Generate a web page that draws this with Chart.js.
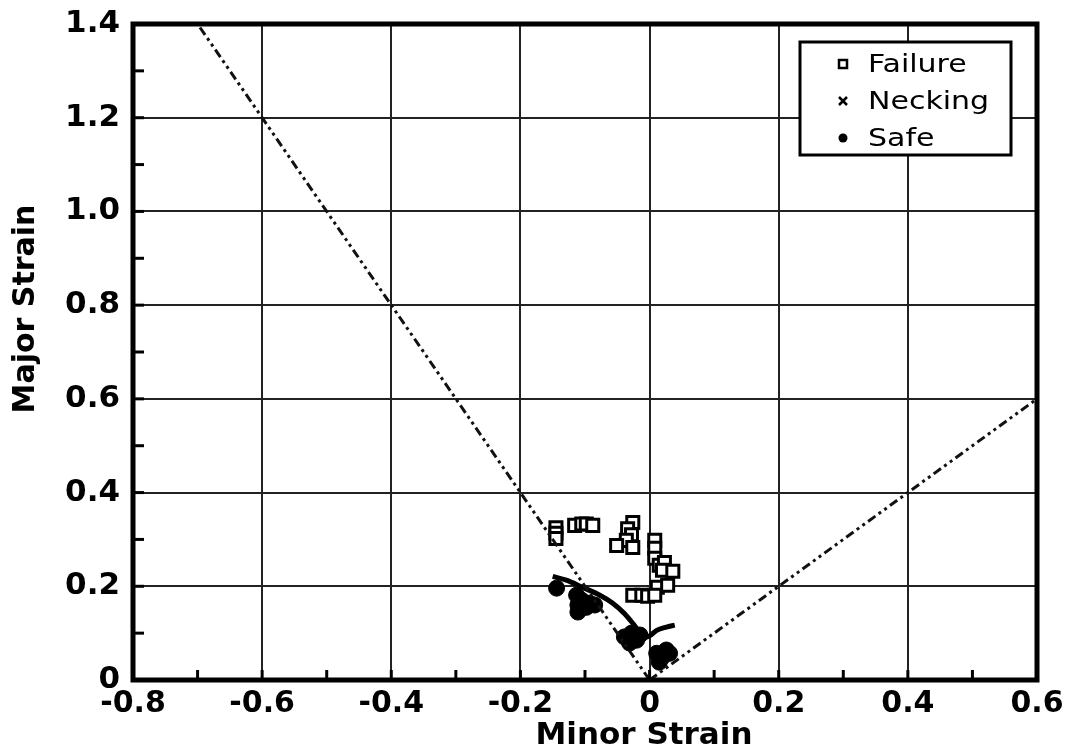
<!DOCTYPE html>
<html>
<head>
<meta charset="utf-8">
<script src="https://cdn.jsdelivr.net/npm/chart.js@4.4.1/dist/chart.umd.min.js"></script>
<style>
  html, body { margin: 0; padding: 0; background: #fff; }
</style>
</head>
<body>
<canvas id="flc" width="1065" height="755"></canvas>
<script>
// forming limit diagram
const failureMinor = [-0.145, -0.145, -0.145, -0.116, -0.105, -0.098, -0.088, -0.026, -0.034, -0.028, -0.036, -0.051, -0.026,
  0.008, 0.008, 0.008, 0.015, 0.023, 0.02, 0.036, 0.012, 0.028, -0.026, -0.012, -0.003, 0.008];
const failureMajor = [0.325, 0.313, 0.302, 0.33, 0.333, 0.333, 0.33, 0.336, 0.323, 0.31, 0.298, 0.287, 0.283,
  0.298, 0.281, 0.26, 0.245, 0.251, 0.234, 0.232, 0.198, 0.202, 0.181, 0.181, 0.179, 0.181];

const safeMinor = [-0.144, -0.113, -0.105, -0.093, -0.085, -0.111, -0.111, -0.098,
  -0.039, -0.028, -0.031, -0.02, -0.015, 0.011, 0.02, 0.031, 0.015, 0.026];
const safeMajor = [0.196, 0.181, 0.17, 0.164, 0.16, 0.16, 0.145, 0.155,
  0.092, 0.1, 0.079, 0.085, 0.096, 0.057, 0.049, 0.057, 0.038, 0.064];

const neckingMinor = [];
const neckingMajor = [];

const curveMinor = [-0.15, -0.129, -0.104, -0.077, -0.057, -0.039, -0.026, -0.015, -0.006, 0.0, 0.011, 0.026, 0.039];
const curveMajor = [0.221, 0.213, 0.198, 0.181, 0.164, 0.142, 0.121, 0.102, 0.091, 0.094, 0.106, 0.113, 0.117];

const leftLimitMinor = [-0.72, 0];
const leftLimitMajor = [1.44, 0];
const rightLimitMinor = [0, 0.62];
const rightLimitMajor = [0, 0.62];

const legendLabels = ['Failure', 'Necking', 'Safe'];
const xTitle = 'Minor Strain';
const yTitle = 'Major Strain';

function pts(xs, ys) {
  return xs.map((x, i) => ({ x: x, y: ys[i] }));
}

function fmt(v) {
  return Math.abs(v) < 1e-9 ? '0' : v.toFixed(1);
}

const limitDash = [9, 4, 3, 4, 3, 4];

// frame, inward ticks, titles and legend box
const decor = {
  id: 'decor',
  afterDatasetsDraw(chart) {
    const ctx = chart.ctx;
    const a = chart.chartArea;
    const xs = chart.scales.x, ys = chart.scales.y;
    ctx.save();
    ctx.strokeStyle = '#000';
    ctx.lineWidth = 3;
    for (let i = -8; i <= 6; i++) {
      const px = xs.getPixelForValue(i / 10);
      ctx.beginPath();
      ctx.moveTo(px, a.bottom);
      ctx.lineTo(px, a.bottom - 10);
      ctx.stroke();
    }
    for (let i = 0; i <= 14; i++) {
      const py = ys.getPixelForValue(i / 10);
      ctx.beginPath();
      ctx.moveTo(a.left, py);
      ctx.lineTo(a.left + 11, py);
      ctx.stroke();
    }
    ctx.lineWidth = 5;
    ctx.strokeRect(a.left, a.top, a.right - a.left, a.bottom - a.top);

    // legend
    const bx = 800, by = 42, bw = 211, bh = 113;
    ctx.fillStyle = '#fff';
    ctx.fillRect(bx, by, bw, bh);
    ctx.lineWidth = 3;
    ctx.strokeRect(bx, by, bw, bh);
    ctx.fillStyle = '#000';
    ctx.textBaseline = 'middle';
    ctx.textAlign = 'left';
    legendLabels.forEach((lab, i) => {
      const cy = by + 22 + i * 37;
      const mx = 843;
      ctx.lineWidth = 2.5;
      if (i === 0) {
        ctx.strokeRect(mx - 4, cy - 4, 8, 8);
      } else if (i === 1) {
        ctx.beginPath();
        ctx.moveTo(mx - 4, cy - 4); ctx.lineTo(mx + 4, cy + 4);
        ctx.moveTo(mx + 4, cy - 4); ctx.lineTo(mx - 4, cy + 4);
        ctx.stroke();
      } else {
        ctx.beginPath();
        ctx.arc(mx, cy, 4.5, 0, Math.PI * 2);
        ctx.fill();
      }
      ctx.save();
      ctx.translate(868, cy);
      ctx.scale(1.2, 1);
      ctx.font = '25px "DejaVu Sans"';
      ctx.fillText(lab, 0, 1);
      ctx.restore();
    });
    ctx.restore();
  },
  afterDraw(chart) {
    const ctx = chart.ctx;
    ctx.save();
    ctx.fillStyle = '#000';
    ctx.font = 'bold 31px "DejaVu Sans"';
    ctx.textAlign = 'center';
    ctx.textBaseline = 'middle';
    ctx.fillText(xTitle, 644, 736);
    ctx.translate(26, 309);
    ctx.rotate(-Math.PI / 2);
    ctx.font = 'bold 30px "DejaVu Sans"';
    ctx.fillText(yTitle, 0, 0);
    ctx.restore();
  }
};

new Chart(document.getElementById('flc'), {
  type: 'scatter',
  data: {
    datasets: [
      {
        label: 'left limit',
        data: pts(leftLimitMinor, leftLimitMajor),
        showLine: true,
        borderColor: '#111',
        borderWidth: 3,
        borderDash: limitDash,
        pointRadius: 0
      },
      {
        label: 'right limit',
        data: pts(rightLimitMinor, rightLimitMajor),
        showLine: true,
        borderColor: '#111',
        borderWidth: 3,
        borderDash: limitDash,
        pointRadius: 0
      },
      {
        label: 'curve',
        data: pts(curveMinor, curveMajor),
        showLine: true,
        borderColor: '#000',
        borderWidth: 5,
        cubicInterpolationMode: 'monotone',
        pointRadius: 0
      },
      {
        label: 'Safe',
        data: pts(safeMinor, safeMajor),
        pointStyle: 'circle',
        pointRadius: 8,
        backgroundColor: '#000',
        borderColor: '#000',
        borderWidth: 1
      },
      {
        label: 'Necking',
        data: pts(neckingMinor, neckingMajor),
        pointStyle: 'crossRot',
        pointRadius: 6,
        borderColor: '#000',
        borderWidth: 2
      },
      {
        label: 'Failure',
        data: pts(failureMinor, failureMajor),
        pointStyle: 'rect',
        pointRadius: 8.5,
        backgroundColor: '#fff',
        borderColor: '#000',
        borderWidth: 3
      }
    ]
  },
  options: {
    responsive: false,
    animation: false,
    layout: {
      padding: { top: 24, right: 28, left: 0, bottom: 0 }
    },
    plugins: {
      legend: { display: false },
      tooltip: { enabled: false }
    },
    scales: {
      x: {
        type: 'linear',
        min: -0.8,
        max: 0.6,
        afterFit: s => { s.height = 75; s.paddingLeft = 0; s.paddingRight = 0; },
        border: { display: false },
        grid: { color: '#222', lineWidth: 2, drawTicks: false },
        ticks: {
          stepSize: 0.2,
          padding: 6,
          color: '#000',
          font: { family: 'DejaVu Sans', weight: 'bold', size: 30 },
          callback: v => fmt(v)
        }
      },
      y: {
        type: 'linear',
        min: 0,
        max: 1.4,
        afterFit: s => { s.width = 133; s.paddingTop = 0; s.paddingBottom = 0; },
        border: { display: false },
        grid: { color: '#222', lineWidth: 2, drawTicks: false },
        ticks: {
          stepSize: 0.2,
          padding: 13,
          color: '#000',
          font: { family: 'DejaVu Sans', weight: 'bold', size: 31 },
          callback: v => fmt(v)
        }
      }
    }
  },
  plugins: [decor]
});
</script>
</body>
</html>
